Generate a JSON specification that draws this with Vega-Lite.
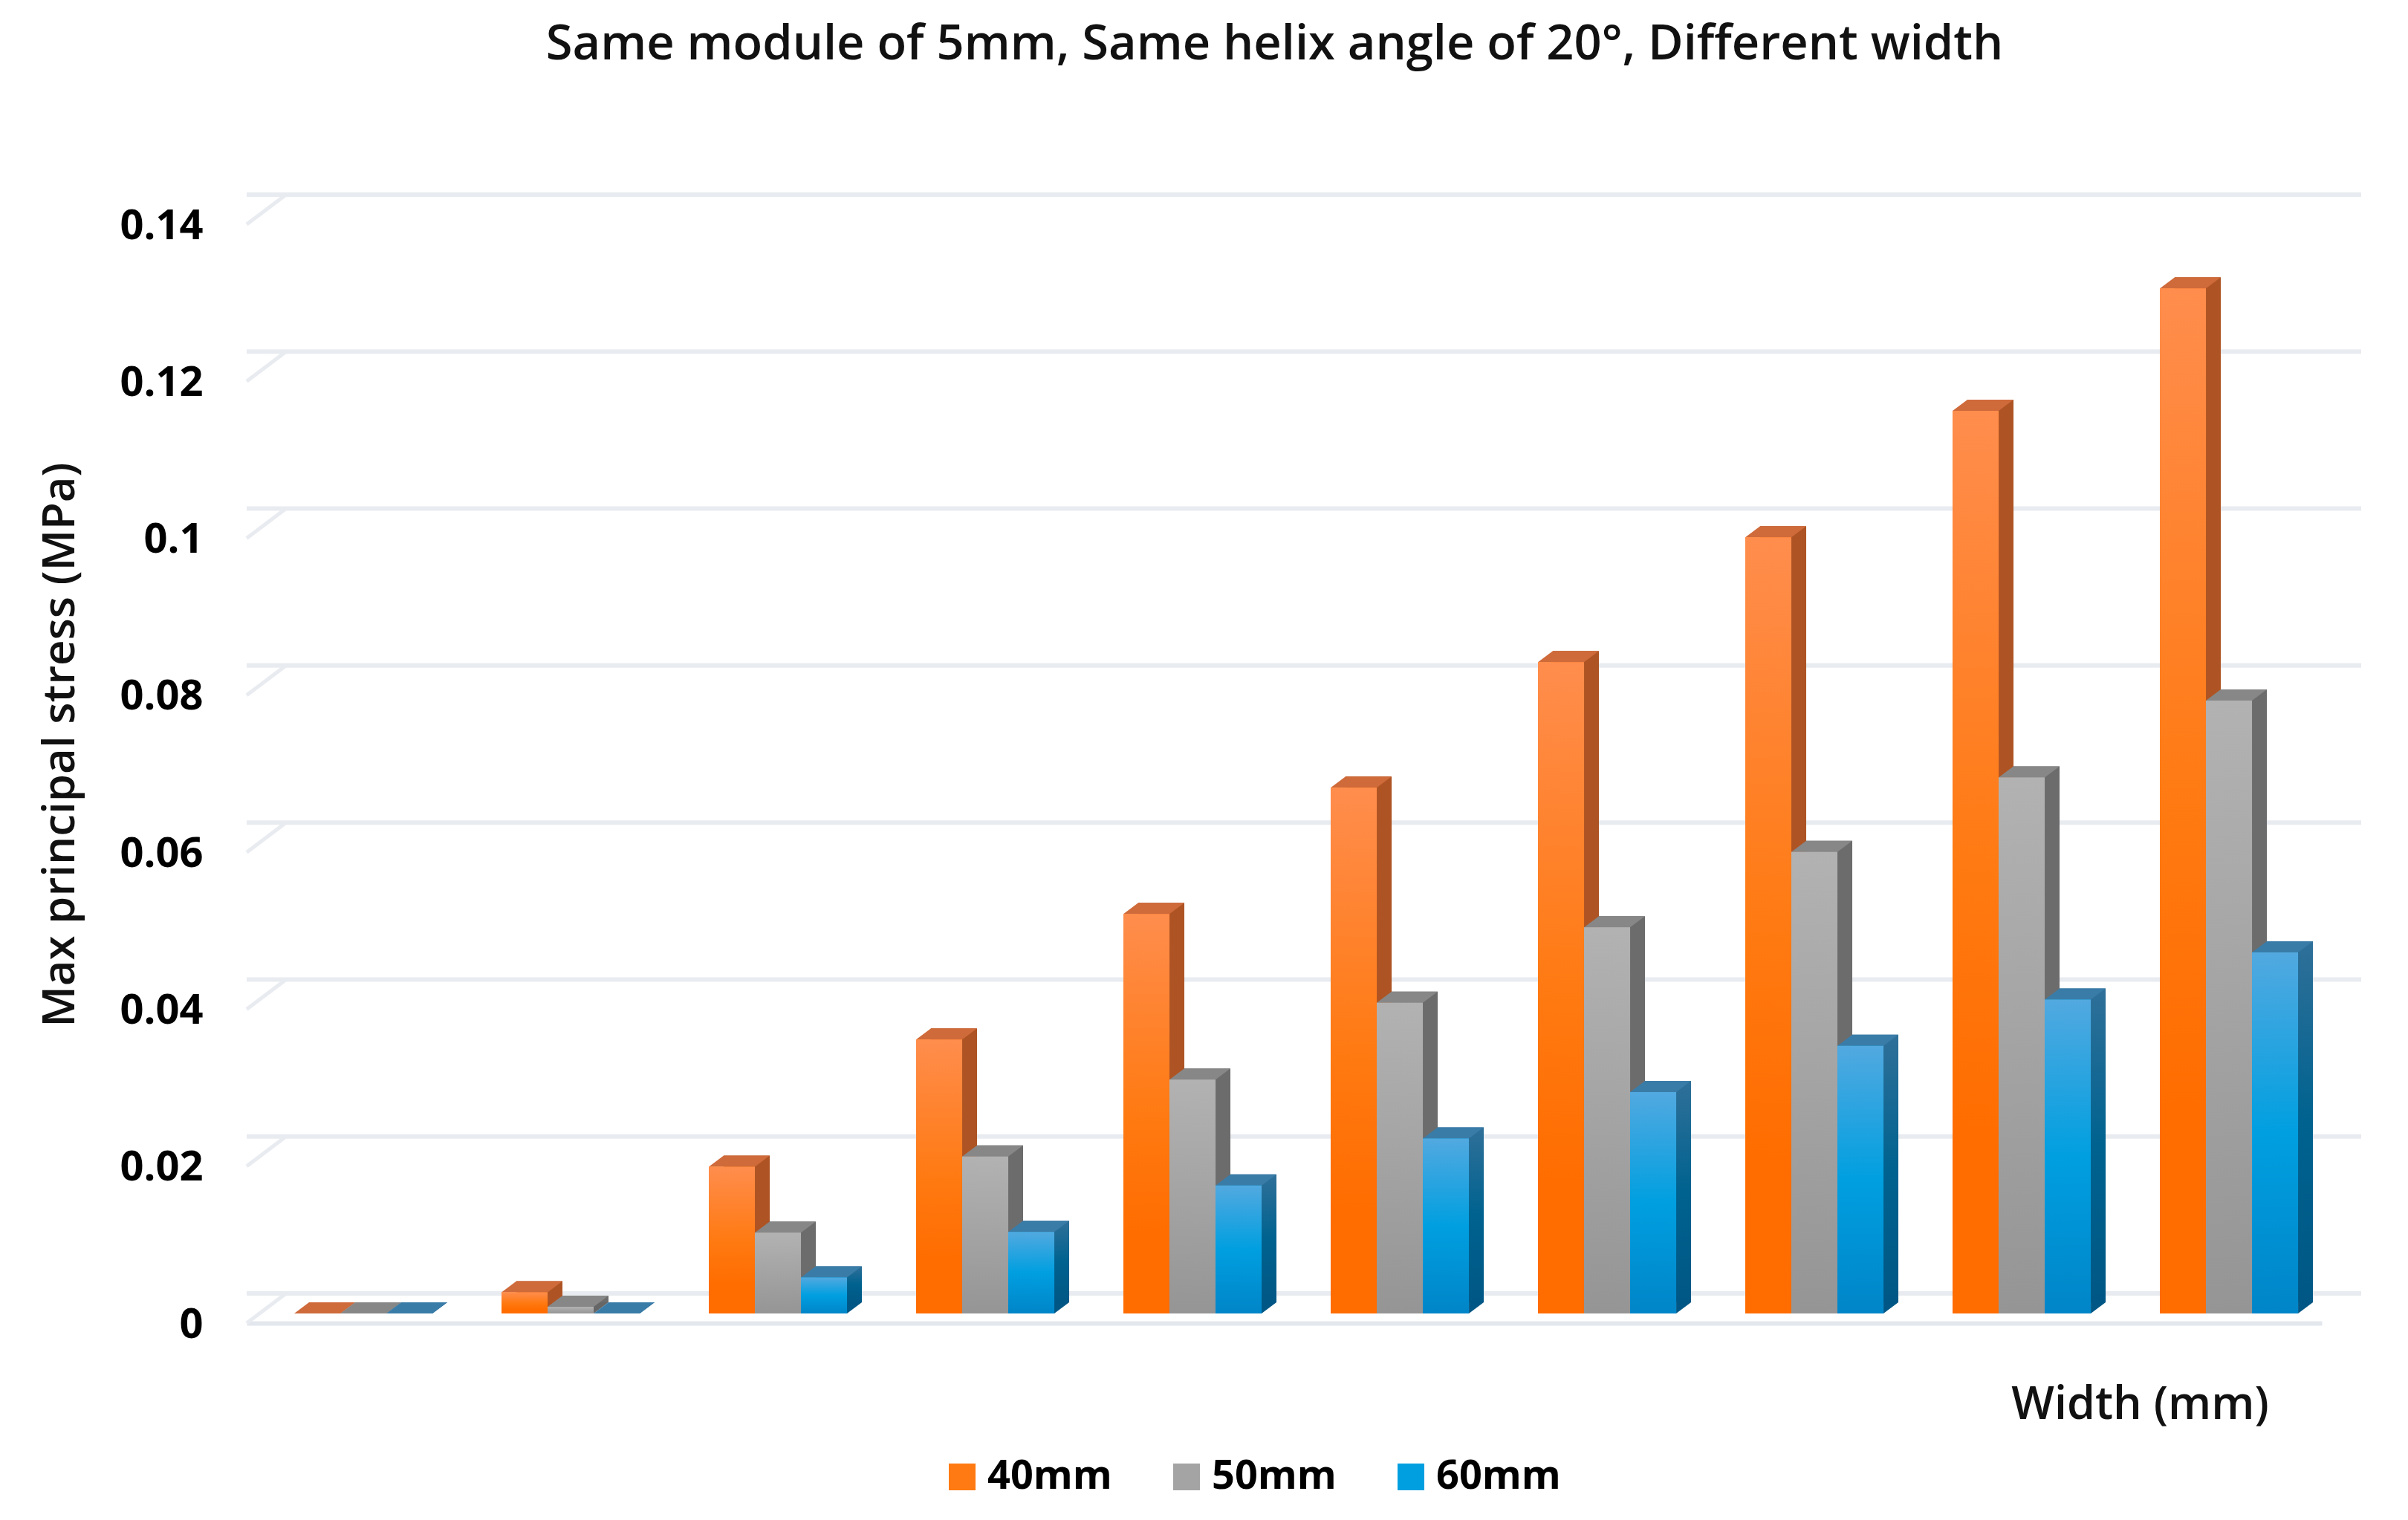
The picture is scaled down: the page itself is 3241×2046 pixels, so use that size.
{"$schema":"https://vega.github.io/schema/vega-lite/v6.json","width":2793,"height":1479,"autosize":"none","padding":{"left":332,"top":302,"right":116,"bottom":265},"background":"#ffffff","view":{"stroke":null},"title":{"text":"Same module of 5mm, Same helix angle of 20°, Different width","font":"Open Sans","fontWeight":600,"fontSize":65,"color":"#111111","anchor":"middle","frame":"group","dx":-13,"offset":158},"datasets":{"ticks":[{"tick":0},{"tick":0.02},{"tick":0.04},{"tick":0.06},{"tick":0.08},{"tick":0.1},{"tick":0.12},{"tick":0.14}],"bars":[{"g":1,"s":"40mm","v":0},{"g":1,"s":"50mm","v":0},{"g":1,"s":"60mm","v":0},{"g":2,"s":"40mm","v":0.0027},{"g":2,"s":"50mm","v":0.00085},{"g":2,"s":"60mm","v":0},{"g":3,"s":"40mm","v":0.0187},{"g":3,"s":"50mm","v":0.0103},{"g":3,"s":"60mm","v":0.0046},{"g":4,"s":"40mm","v":0.0349},{"g":4,"s":"50mm","v":0.02},{"g":4,"s":"60mm","v":0.0104},{"g":5,"s":"40mm","v":0.0509},{"g":5,"s":"50mm","v":0.0298},{"g":5,"s":"60mm","v":0.0163},{"g":6,"s":"40mm","v":0.067},{"g":6,"s":"50mm","v":0.0396},{"g":6,"s":"60mm","v":0.0223},{"g":7,"s":"40mm","v":0.083},{"g":7,"s":"50mm","v":0.0492},{"g":7,"s":"60mm","v":0.0282},{"g":8,"s":"40mm","v":0.0989},{"g":8,"s":"50mm","v":0.0588},{"g":8,"s":"60mm","v":0.0341},{"g":9,"s":"40mm","v":0.115},{"g":9,"s":"50mm","v":0.0683},{"g":9,"s":"60mm","v":0.04},{"g":10,"s":"40mm","v":0.1306},{"g":10,"s":"50mm","v":0.0781},{"g":10,"s":"60mm","v":0.046}]},"resolve":{"scale":{"fill":"independent","xOffset":"independent"},"legend":{"fill":"independent"}},"layer":[{"data":{"name":"ticks"},"mark":{"type":"rule","color":"#e8ebf0","strokeWidth":6,"xOffset":53,"x2Offset":53,"yOffset":-40},"encoding":{"y":{"field":"tick","type":"quantitative","scale":{"domain":[0,0.14],"nice":false},"axis":{"values":[0,0.02,0.04,0.06,0.08,0.1,0.12,0.14],"format":"~g","grid":false,"ticks":false,"domain":false,"labelPadding":59,"labelOffset":2,"labelFont":"Open Sans","labelFontWeight":700,"labelFontSize":56,"labelColor":"#000000","title":"Max principal stress (MPa)","titleFont":"Open Sans","titleFontWeight":600,"titleFontSize":60,"titleColor":"#111111","titleX":-251,"titleY":700,"titleAngle":-90,"titleBaseline":"middle","titleAlign":"center"}}}},{"data":{"name":"ticks"},"mark":{"type":"point","filled":false,"stroke":"#e8ebf0","strokeWidth":5,"size":4,"opacity":1,"shape":"M0,0L53,-40","xOffset":-157},"encoding":{"x":{"datum":1,"type":"ordinal","scale":{"paddingInner":0.3333,"paddingOuter":0.172,"align":0.667},"axis":{"title":"Width (mm)","labels":false,"ticks":false,"domain":true,"domainColor":"#e3e7ed","domainWidth":6,"titleFont":"Open Sans","titleFontWeight":600,"titleFontSize":61,"titleColor":"#111111","titleX":2548,"titleY":110,"titleAlign":"center","titleBaseline":"middle"}},"y":{"field":"tick","type":"quantitative"}}},{"data":{"name":"bars"},"mark":{"type":"bar","yOffset":-28,"y2Offset":-28},"encoding":{"x":{"field":"g","type":"ordinal"},"xOffset":{"field":"s","type":"nominal","scale":{"range":[20,206],"paddingInner":0,"paddingOuter":0}},"y":{"field":"v","type":"quantitative"},"fill":{"condition":[{"test":"datum.s==='40mm'","value":"#ae5424"},{"test":"datum.s==='50mm'","value":"#6c6c6c"}],"value":{"gradient":"linear","x1":0,"y1":0,"x2":0,"y2":1,"stops":[{"offset":0,"color":"#2f7099"},{"offset":0.5,"color":"#00628f"},{"offset":1,"color":"#005785"}]}}}},{"data":{"name":"bars"},"mark":{"type":"point","filled":true,"size":4,"opacity":1,"shape":"M31,-15L51,-15L31,0Z","yOffset":-13},"encoding":{"x":{"field":"g","type":"ordinal"},"xOffset":{"field":"s","type":"nominal","scale":{"type":"band","paddingInner":0,"paddingOuter":0}},"y":{"datum":0,"type":"quantitative"},"fill":{"field":"s","type":"nominal","legend":null,"scale":{"domain":["40mm","50mm","60mm"],"range":["#ae5220","#666666","#005785"]}}}},{"data":{"name":"bars"},"mark":{"type":"point","filled":true,"size":4,"opacity":1,"shape":"M-31,0L31,0L51,-15L-11,-15Z","yOffset":-13},"encoding":{"x":{"field":"g","type":"ordinal"},"xOffset":{"field":"s","type":"nominal","scale":{"type":"band","paddingInner":0,"paddingOuter":0}},"y":{"field":"v","type":"quantitative"},"fill":{"field":"s","type":"nominal","legend":null,"scale":{"domain":["40mm","50mm","60mm"],"range":["#cf6a3a","#878787","#3a7ca8"]}}}},{"data":{"name":"bars"},"mark":{"type":"bar","yOffset":-13,"y2Offset":-13},"encoding":{"x":{"field":"g","type":"ordinal"},"xOffset":{"field":"s","type":"nominal","scale":{"paddingInner":0,"paddingOuter":0}},"y":{"field":"v","type":"quantitative"},"fill":{"field":"s","type":"nominal","scale":{"domain":["40mm","50mm","60mm"],"range":["#ff7a12","#a4a4a4","#009fe0"]},"legend":{"orient":"none","legendX":936,"legendY":1659,"direction":"horizontal","columns":3,"title":null,"symbolType":"square","symbolSize":1296,"symbolStrokeWidth":0,"labelFont":"Open Sans","labelFontWeight":700,"labelFontSize":54,"labelColor":"#000000","labelOffset":7,"labelLimit":400,"columnPadding":73,"encode":{"symbols":{"update":{"fill":{"signal":"datum.value==='40mm'?{gradient:'linear',x1:0,y1:0,x2:0,y2:1,stops:[{offset:0,color:'#ff8d4d'},{offset:0.6,color:'#ff7a12'},{offset:1,color:'#ff6c00'}]}:datum.value==='50mm'?{gradient:'linear',x1:0,y1:0,x2:0,y2:1,stops:[{offset:0,color:'#b2b2b2'},{offset:1,color:'#959595'}]}:{gradient:'linear',x1:0,y1:0,x2:0,y2:1,stops:[{offset:0,color:'#52a9e0'},{offset:0.5,color:'#009fe0'},{offset:1,color:'#0085c8'}]}"}}}}}}}},{"data":{"name":"bars"},"mark":{"type":"bar","yOffset":-13,"y2Offset":-13},"encoding":{"x":{"field":"g","type":"ordinal"},"xOffset":{"field":"s","type":"nominal","scale":{"paddingInner":0,"paddingOuter":0}},"y":{"field":"v","type":"quantitative"},"fill":{"condition":[{"test":"datum.s==='40mm'","value":{"gradient":"linear","x1":0,"y1":0,"x2":0,"y2":1,"stops":[{"offset":0,"color":"#ff8d4d"},{"offset":0.5,"color":"#ff7a12"},{"offset":0.8,"color":"#ff6d00"},{"offset":1,"color":"#ff6c00"}]}},{"test":"datum.s==='50mm'","value":{"gradient":"linear","x1":0,"y1":0,"x2":0,"y2":1,"stops":[{"offset":0,"color":"#b2b2b2"},{"offset":1,"color":"#959595"}]}}],"value":{"gradient":"linear","x1":0,"y1":0,"x2":0,"y2":1,"stops":[{"offset":0,"color":"#52a9e0"},{"offset":0.5,"color":"#009fe0"},{"offset":1,"color":"#0085c8"}]}}}}]}
